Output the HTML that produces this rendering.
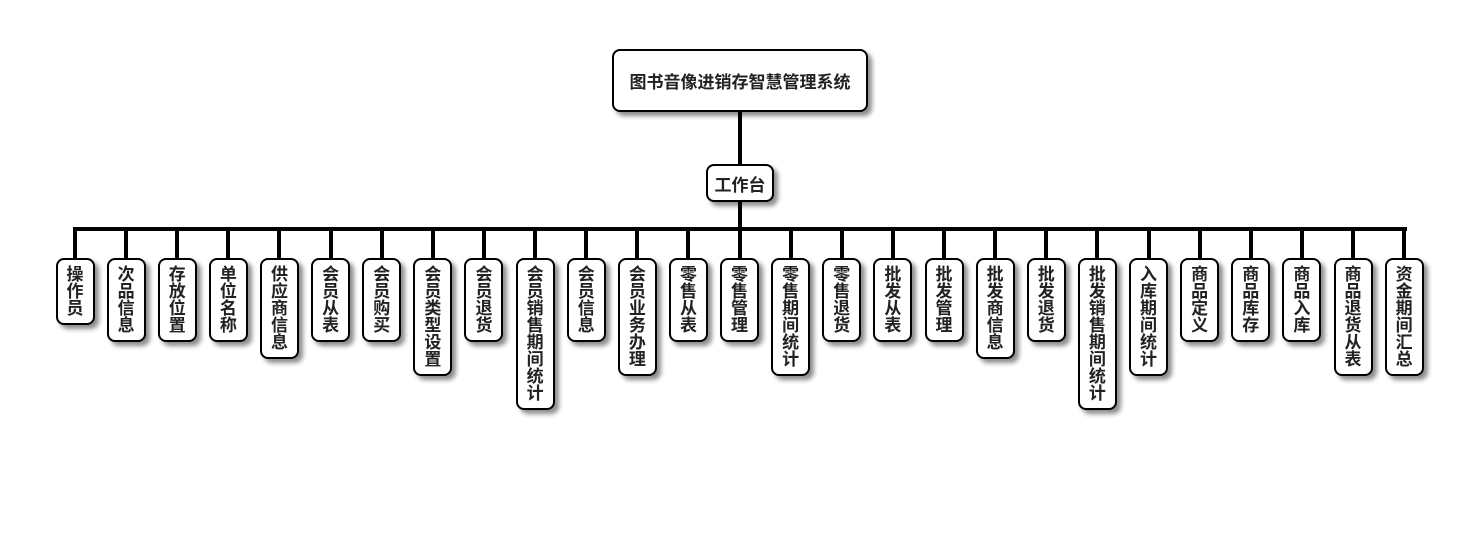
<!DOCTYPE html>
<html><head><meta charset="utf-8"><style>
body{margin:0;width:1480px;height:560px;background:#fff;position:relative;overflow:hidden;font-family:"Liberation Sans","Noto Sans CJK SC",sans-serif;font-weight:bold;color:#222}
.b{position:absolute;background:#fff;border:2px solid #000;border-radius:8px;box-shadow:4px 4px 5px rgba(0,0,0,.45);box-sizing:border-box;display:flex;align-items:center;justify-content:center;text-align:center}
.l{position:absolute;background:#000}
.leaf{width:39px;top:258px;font-size:17px;line-height:17px;padding-top:6px;align-items:flex-start}
</style></head><body>
<div class="l" style="left:738px;top:111px;width:4px;height:54px"></div>
<div class="l" style="left:738px;top:200px;width:4px;height:30px"></div>
<div class="l" style="left:73px;top:227px;width:1334px;height:4px"></div>
<div class="b" style="left:612px;top:49px;width:256px;height:63px;font-size:17px">图书音像进销存智慧管理系统</div>
<div class="b" style="left:706px;top:164px;width:68px;height:38px;font-size:17px">工作台</div>
<div id="leaves"></div>
<script>
var n=["操作员","次品信息","存放位置","单位名称","供应商信息","会员从表","会员购买","会员类型设置","会员退货","会员销售期间统计","会员信息","会员业务办理","零售从表","零售管理","零售期间统计","零售退货","批发从表","批发管理","批发商信息","批发退货","批发销售期间统计","入库期间统计","商品定义","商品库存","商品入库","商品退货从表","资金期间汇总"];
var h="";
n.forEach(function(t,i){var c=75+i*51.12;
h+='<div class="l" style="left:'+(c-2)+'px;top:229px;width:4px;height:30px"></div>';
h+='<div class="b leaf" style="left:'+(c-19.5)+'px;height:'+(17*t.length+16)+'px">'+t.split("").join("<br>")+'</div>';});
document.getElementById("leaves").innerHTML=h;
</script>
</body></html>
